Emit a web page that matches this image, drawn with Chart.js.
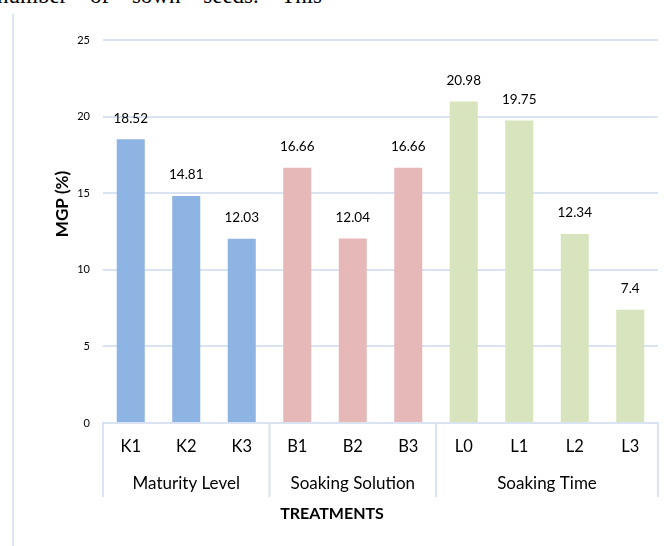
<!DOCTYPE html>
<html>
<head>
<meta charset="utf-8">
<script src="https://cdn.jsdelivr.net/npm/chart.js@4.4.0/dist/chart.umd.min.js"></script>
<style>
    html, body { margin: 0; padding: 0; background: #fff; }
    #wrap { position: relative; width: 672px; height: 546px; overflow: hidden; }
    #cut { position: absolute; left: -3px; top: -16px; font: 23px "Liberation Serif", serif; line-height: 23px; white-space: nowrap; word-spacing: 17px; color: #000; }
    #frame { position: absolute; left: 12px; top: 14px; width: 2px; height: 532px; background: #dce6f2; }
    canvas { position: absolute; left: 0; top: 0; }
</style>
</head>
<body>
<div id="wrap">
    <div id="cut">number of sown seeds. This</div>
    <div id="frame"></div>
    <canvas id="mgpChart" width="672" height="546"></canvas>
</div>
<script>
// --- DATA ---
const categories = ['K1', 'K2', 'K3', 'B1', 'B2', 'B3', 'L0', 'L1', 'L2', 'L3'];
const mgpValues = [18.52, 14.81, 12.03, 16.66, 12.04, 16.66, 20.98, 19.75, 12.34, 7.4];
const groupNames = ['Maturity Level', 'Soaking Solution', 'Soaking Time'];
const groupSizes = [3, 3, 4];
const yTicks = [0, 5, 10, 15, 20, 25];

// --- STYLE ---
const groupColors = ['#8eb4e3', '#e6b9b8', '#d7e4bd'];
const lineColor = '#d9e3f1';
const textColor = '#000';

const barColors = [];
groupSizes.forEach((n, g) => { for (let i = 0; i < n; i++) barColors.push(groupColors[g]); });

Chart.defaults.font.family = 'Lato';
Chart.defaults.color = textColor;

// labels, group brackets and axis titles
const extrasPlugin = {
    id: 'extras',
    afterDatasetsDraw(chart) {
        const { ctx, chartArea } = chart;
        const x = chart.scales.x;
        const bars = chart.getDatasetMeta(0).data;
        ctx.save();
        ctx.fillStyle = textColor;
        ctx.textAlign = 'center';
        ctx.textBaseline = 'middle';

        // value labels
        ctx.font = '13.5px Lato';
        bars.forEach((bar, i) => ctx.fillText(String(mgpValues[i]), bar.x, bar.y - 21));

        // group separators + names
        const edge = i => {
            if (i <= 0) return chartArea.left;
            if (i >= categories.length) return chartArea.right;
            return (x.getPixelForValue(i - 1) + x.getPixelForValue(i)) / 2;
        };
        ctx.strokeStyle = lineColor;
        ctx.lineWidth = 2;
        ctx.font = '17px Lato';
        let start = 0;
        groupSizes.forEach((n, g) => {
            const a = edge(start), b = edge(start + n);
            ctx.fillText(groupNames[g], (a + b) / 2, 484);
            start += n;
        });
        let idx = 0;
        [0, ...groupSizes].forEach(n => {
            idx += n;
            const px = edge(idx);
            ctx.beginPath();
            ctx.moveTo(px, chartArea.bottom);
            ctx.lineTo(px, 497);
            ctx.stroke();
        });

        // axis titles
        ctx.font = 'bold 16px Lato';
        ctx.fillText('TREATMENTS', 332, 514);
        ctx.font = 'bold 17px Lato';
        ctx.translate(63, 204);
        ctx.rotate(-Math.PI / 2);
        ctx.fillText('MGP (%)', 0, 0);
        ctx.restore();
    }
};

new Chart(document.getElementById('mgpChart'), {
    type: 'bar',
    data: {
        labels: categories,
        datasets: [{ data: mgpValues, backgroundColor: barColors, categoryPercentage: 1, barPercentage: 0.505 }]
    },
    options: {
        responsive: false, animation: false,
        layout: { padding: { left: 0, top: 40, right: 14, bottom: 0 } },
        plugins: { legend: { display: false }, tooltip: { enabled: false } },
        scales: {
            y: {
                min: 0, max: 25,
                afterBuildTicks: s => { s.ticks = yTicks.map(v => ({ value: v })); },
                afterFit: s => { s.width = 103; },
                ticks: { font: { size: 11 }, padding: 13, color: textColor },
                grid: { color: lineColor, lineWidth: 2, drawTicks: false },
                border: { display: false }
            },
            x: {
                afterFit: s => { s.height = 123; },
                ticks: { font: { size: 16.5 }, padding: 14, color: textColor },
                grid: { display: false, drawTicks: false },
                border: { color: lineColor, width: 2 }
            }
        }
    },
    plugins: [extrasPlugin]
});
</script>
</body>
</html>
